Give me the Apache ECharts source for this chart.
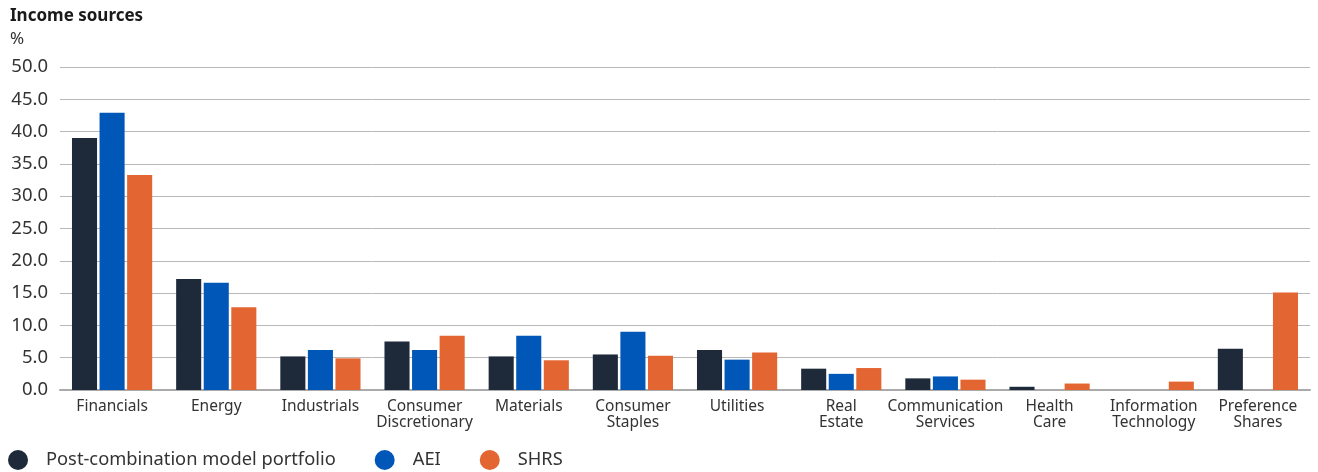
<!DOCTYPE html>
<html>
<head>
<meta charset="utf-8">
<script src="https://cdn.jsdelivr.net/npm/echarts@6/dist/echarts.min.js"></script>
<style>
  html, body { margin: 0; padding: 0; background: #fff; }
  #chart { width: 1318px; height: 472px; }
</style>
</head>
<body>
<div id="chart"></div>
<script>
// Sector categories (line breaks as shown on the axis)
const categories = [
  'Financials', 'Energy', 'Industrials', 'Consumer\nDiscretionary', 'Materials',
  'Consumer\nStaples', 'Utilities', 'Real\nEstate', 'Communication\nServices',
  'Health\nCare', 'Information\nTechnology', 'Preference\nShares'
];

// Share of income by sector, %
const postCombination = [39.0, 17.2, 5.2, 7.5, 5.2, 5.5, 6.2, 3.3, 1.8, 0.5, 0.0, 6.4];
const aei             = [42.9, 16.6, 6.2, 6.2, 8.4, 9.0, 4.7, 2.5, 2.1, 0.0, 0.0, 0.0];
const shrs            = [33.3, 12.8, 4.9, 8.4, 4.6, 5.3, 5.8, 3.4, 1.6, 1.0, 1.3, 15.1];

const seriesNames = ['Post-combination model portfolio', 'AEI', 'SHRS'];
const colors = ['#1e2a3a', '#0057b8', '#e36531'];

const font = '"Noto Sans", sans-serif';
const chart = echarts.init(document.getElementById('chart'));

chart.setOption({
  animation: false,
  textStyle: { fontFamily: font },
  title: [
    { text: 'Income sources', left: 5, top: 3,
      textStyle: { fontFamily: font, fontSize: 17, fontWeight: 'bold', color: '#1a1a1a' } },
    { text: '%', left: 5, top: 26,
      textStyle: { fontFamily: font, fontSize: 17, fontWeight: 'normal', color: '#333' } }
  ],
  legend: {
    left: 8, bottom: 2, padding: 0,
    icon: 'circle', itemWidth: 20, itemHeight: 20, itemGap: 39,
    textStyle: { fontFamily: font, fontSize: 18.3, color: '#333', padding: [0, 0, 0, 13] },
    data: seriesNames
  },
  grid: { left: 60, right: 8, top: 67, bottom: 82 },
  xAxis: {
    type: 'category',
    data: categories,
    axisLine: { lineStyle: { color: '#aaa', width: 2 } },
    axisTick: { show: false },
    axisLabel: { interval: 0, fontFamily: font, fontSize: 15.5, color: '#333', margin: 9, lineHeight: 16 }
  },
  yAxis: {
    type: 'value',
    min: 0, max: 50, interval: 5,
    axisLine: { show: false },
    axisTick: { show: false },
    axisLabel: { fontFamily: font, fontSize: 18.5, color: '#333', margin: 12,
      formatter: v => v.toFixed(1) },
    splitLine: { lineStyle: { color: '#b8b8b8', width: 1 } }
  },
  series: [
    { name: seriesNames[0], type: 'bar', data: postCombination, itemStyle: { color: colors[0] },
      barGap: '10%', barCategoryGap: '23%' },
    { name: seriesNames[1], type: 'bar', data: aei, itemStyle: { color: colors[1] } },
    { name: seriesNames[2], type: 'bar', data: shrs, itemStyle: { color: colors[2] } }
  ]
});
</script>
</body>
</html>
